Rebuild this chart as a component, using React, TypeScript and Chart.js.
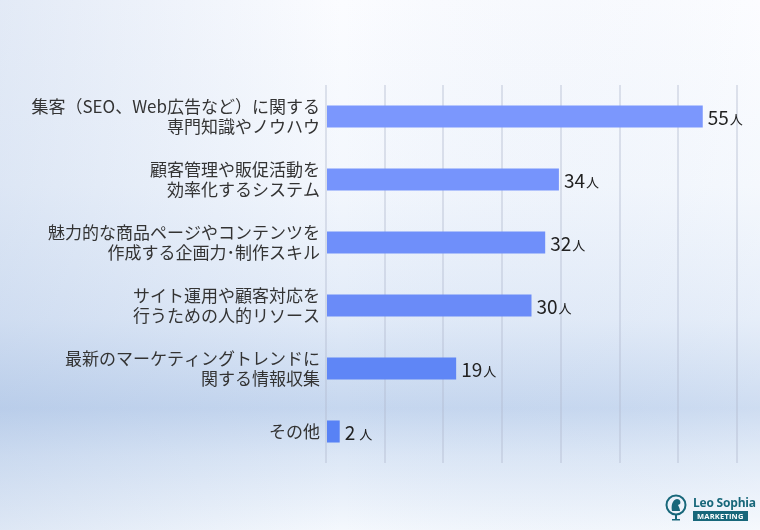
import React, { useEffect, useRef } from "react";
import { Chart, registerables } from "chart.js";

Chart.register(...registerables);

const categories: string[][] = [
  ["集客（SEO、Web広告など）に関する", "専門知識やノウハウ"],
  ["顧客管理や販促活動を", "効率化するシステム"],
  ["魅力的な商品ページやコンテンツを", "作成する企画力･制作スキル"],
  ["サイト運用や顧客対応を", "行うための人的リソース"],
  ["最新のマーケティングトレンドに", "関する情報収集"],
  ["その他"],
];
const values: number[] = [55, 34, 32, 30, 19, 2];
const barColors: string[] = ["#7b97fd", "#7694fc", "#6f8ffa", "#6a8bf8", "#5f86f6", "#5882f5"];
const unit = "人";
const xMax = 60;
const gridDivisions = 7;

const FONT = "'Noto Sans CJK JP', 'Noto Sans', sans-serif";

const bgPlugin = {
  id: "bg",
  beforeDraw(chart: any) {
    const { ctx, width, height } = chart;
    ctx.save();
    const g = ctx.createLinearGradient(0, 0, 0, height);
    g.addColorStop(0, "#fbfcff");
    g.addColorStop(0.35, "#f3f7fd");
    g.addColorStop(0.6, "#e2ebf8");
    g.addColorStop(0.77, "#c6d7ef");
    g.addColorStop(0.86, "#dce7f6");
    g.addColorStop(1, "#f4f8fd");
    ctx.fillStyle = g;
    ctx.fillRect(0, 0, width, height);
    const h = ctx.createLinearGradient(0, 0, width, 0);
    h.addColorStop(0, "rgba(140,170,215,0.22)");
    h.addColorStop(0.45, "rgba(140,170,215,0.0)");
    h.addColorStop(1, "rgba(255,255,255,0.15)");
    ctx.fillStyle = h;
    ctx.fillRect(0, 0, width, height);
    ctx.restore();
  },
};

const valueLabelPlugin = {
  id: "valueLabels",
  afterDatasetsDraw(chart: any) {
    const { ctx } = chart;
    const meta = chart.getDatasetMeta(0);
    ctx.save();
    ctx.fillStyle = "#222";
    ctx.textBaseline = "middle";
    ctx.textAlign = "left";
    meta.data.forEach((bar: any, i: number) => {
      const x = bar.x + 5;
      const y = bar.y + 1;
      const num = String(values[i]);
      ctx.font = `19px ${FONT}`;
      ctx.fillText(num, x, y);
      const w = ctx.measureText(num).width;
      ctx.font = `13px ${FONT}`;
      ctx.fillText(unit, x + w + (values[i] < 10 ? 4 : 1), y + 2);
    });
    ctx.restore();
  },
};

export default function App() {
  const ref = useRef<HTMLCanvasElement | null>(null);
  useEffect(() => {
    if (!ref.current) return;
    const chart = new Chart(ref.current, {
      type: "bar",
      data: {
        labels: categories,
        datasets: [
          {
            data: values,
            backgroundColor: barColors,
            borderWidth: 0,
            barPercentage: 0.7,
            categoryPercentage: 0.5,
          },
        ],
      },
      options: {
        indexAxis: "y",
        animation: false,
        responsive: false,
        layout: { padding: { left: 0, right: 23, top: 85, bottom: 67 } },
        plugins: { legend: { display: false }, tooltip: { enabled: false } },
        scales: {
          x: {
            min: 0,
            max: xMax,
            afterBuildTicks: (scale: any) => {
              scale.ticks = Array.from({ length: gridDivisions + 1 }, (_, i) => ({ value: (i * xMax) / gridDivisions }));
            },
            ticks: { display: false },
            border: { display: false },
            grid: { color: "rgba(175,185,205,0.38)", lineWidth: 2, drawTicks: false },
          },
          y: {
            afterFit: (scale: any) => {
              scale.width = 326;
            },
            ticks: {
              color: "#333",
              font: { family: FONT, size: 17, lineHeight: 1.15 },
              padding: 6,
            },
            border: { display: false },
            grid: { display: false, drawTicks: false },
          },
        },
      },
      plugins: [bgPlugin, valueLabelPlugin],
    });
    return () => chart.destroy();
  }, []);

  return (
    <div style={{ position: "fixed", left: 0, top: 0, width: 760, height: 530 }}>
      <canvas ref={ref} width={760} height={530} style={{ display: "block" }} />
      <div style={{ position: "absolute", left: 665, top: 494, display: "flex", alignItems: "center" }}>
        <svg width="22" height="28" viewBox="0 0 22 28">
          <circle cx="11" cy="11" r="9.5" fill="none" stroke="#17677a" strokeWidth="2" />
          <path d="M7 17 C6 12 7 6 12 5 C15 5 16 8 15 10 L13 11 C14 13 15 15 15 17 Z" fill="#17677a" />
          <rect x="10" y="21" width="2" height="5" fill="#17677a" />
          <rect x="7" y="25" width="8" height="1.5" fill="#17677a" />
        </svg>
        <div style={{ marginLeft: 6, display: "flex", flexDirection: "column", alignItems: "flex-start" }}>
          <div style={{ fontFamily: "'Open Sans', sans-serif", fontWeight: 700, fontSize: 12, color: "#17677a", lineHeight: "13px", letterSpacing: -0.2 }}>
            Leo Sophia
          </div>
          <div
            style={{
              marginTop: 2,
              background: "#17677a",
              color: "#fff",
              fontFamily: "'Open Sans', sans-serif",
              fontWeight: 700,
              fontSize: 7.5,
              lineHeight: "10px",
              padding: "0 4px",
              letterSpacing: 0.2,
            }}
          >
            MARKETING
          </div>
        </div>
      </div>
    </div>
  );
}
